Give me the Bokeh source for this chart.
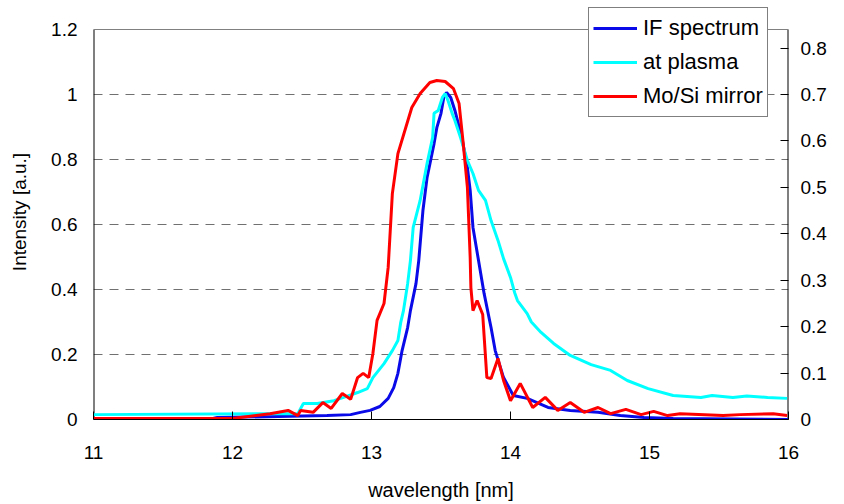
from bokeh.plotting import figure
from bokeh.models import (Range1d, LinearAxis, FixedTicker, NumeralTickFormatter,
                          Legend, LegendItem)
from bokeh.embed import file_html
from bokeh.resources import INLINE

# ---- data ----
if_wl = [11.0, 11.86, 11.89, 12.68, 12.85, 12.92, 12.99, 13.06, 13.12, 13.16, 13.19,
         13.22, 13.26, 13.28, 13.32, 13.34, 13.37, 13.40, 13.45, 13.47, 13.50, 13.52,
         13.54, 13.57, 13.60, 13.65, 13.69, 13.71, 13.73, 13.77, 13.81, 13.86, 13.89,
         13.95, 14.02, 14.12, 14.27, 14.43, 14.63, 14.79, 14.96, 15.17, 16.0]
if_int = [0.0, 0.003, 0.006, 0.012, 0.015, 0.022, 0.028, 0.040, 0.065, 0.098, 0.142,
          0.212, 0.283, 0.335, 0.418, 0.489, 0.643, 0.745, 0.849, 0.898, 0.942, 0.991,
          1.006, 0.991, 0.951, 0.868, 0.775, 0.705, 0.591, 0.489, 0.388, 0.283, 0.212,
          0.129, 0.074, 0.065, 0.037, 0.028, 0.022, 0.012, 0.006, 0.003, 0.0]

pl_wl = [11.0, 12.47, 12.51, 12.61, 12.73, 12.80, 12.90, 12.97, 13.01, 13.09, 13.15,
         13.19, 13.21, 13.23, 13.26, 13.28, 13.30, 13.35, 13.40, 13.44, 13.45, 13.48,
         13.51, 13.53, 13.55, 13.58, 13.60, 13.64, 13.69, 13.73, 13.77, 13.82, 13.86,
         13.91, 13.95, 14.00, 14.03, 14.05, 14.12, 14.15, 14.22, 14.31, 14.43, 14.58,
         14.72, 14.84, 14.99, 15.17, 15.37, 15.45, 15.60, 15.70, 15.85, 15.99]
pl_int = [0.015, 0.018, 0.049, 0.049, 0.058, 0.068, 0.083, 0.095, 0.129, 0.172, 0.212,
          0.243, 0.298, 0.335, 0.418, 0.489, 0.591, 0.674, 0.788, 0.868, 0.942, 0.951,
          0.991, 1.003, 0.982, 0.942, 0.920, 0.868, 0.797, 0.757, 0.705, 0.674, 0.612,
          0.551, 0.495, 0.437, 0.390, 0.366, 0.326, 0.300, 0.268, 0.234, 0.197, 0.169,
          0.151, 0.120, 0.095, 0.074, 0.068, 0.074, 0.068, 0.072, 0.068, 0.065]

mo_wl = [11.0, 12.0, 12.27, 12.40, 12.47, 12.49, 12.58, 12.65, 12.71, 12.79, 12.85,
         12.90, 12.94, 12.98, 13.01, 13.04, 13.09, 13.12, 13.15, 13.19, 13.29, 13.35,
         13.42, 13.47, 13.53, 13.59, 13.63, 13.66, 13.69, 13.71, 13.715, 13.73, 13.76,
         13.80, 13.83, 13.86, 13.91, 13.95, 14.00, 14.07, 14.16, 14.25, 14.34, 14.43,
         14.53, 14.63, 14.72, 14.83, 14.94, 15.03, 15.13, 15.22, 15.53, 15.65, 15.89, 15.99]
mo_int = [0.003, 0.003, 0.018, 0.028, 0.012, 0.028, 0.022, 0.052, 0.034, 0.080, 0.062,
          0.129, 0.142, 0.129, 0.203, 0.305, 0.357, 0.468, 0.695, 0.818, 0.960, 1.003,
          1.037, 1.043, 1.040, 1.018, 0.972, 0.849, 0.714, 0.498, 0.406, 0.335, 0.366,
          0.323, 0.129, 0.126, 0.188, 0.120, 0.058, 0.111, 0.037, 0.068, 0.028, 0.052,
          0.022, 0.037, 0.018, 0.031, 0.015, 0.025, 0.012, 0.018, 0.012, 0.015, 0.018, 0.012]

series_names = ["IF spectrum", "at plasma", "Mo/Si mirror"]
x_ticks = [11, 12, 13, 14, 15, 16]
y_ticks = [0, 0.2, 0.4, 0.6, 0.8, 1.0, 1.2]
y2_ticks = [0, 0.1, 0.2, 0.3, 0.4, 0.5, 0.6, 0.7, 0.8]
y2_max = 0.84          # right axis value at the top of the left axis (1.2)

FONT = "Liberation Sans"

# frame extends a little above the 1.2 line so the legend box can overlap it
FRAME_TOP_PX, PLOT_TOP_PX, PLOT_BOTTOM_PX = 4, 29, 419
ext = (PLOT_BOTTOM_PX - FRAME_TOP_PX) / (PLOT_BOTTOM_PX - PLOT_TOP_PX)

p = figure(width=844, height=504, output_backend="svg", toolbar_location=None,
           x_range=Range1d(x_ticks[0], x_ticks[-1]),
           y_range=Range1d(0, y_ticks[-1] * ext),
           min_border_left=93, min_border_right=56, min_border_top=FRAME_TOP_PX,
           min_border_bottom=85)
p.extra_y_ranges = {"right": Range1d(0, y2_max * ext)}

p.outline_line_color = None
p.background_fill_color = "white"
p.border_fill_color = "white"

# grid
p.xgrid.visible = False
p.ygrid.ticker = FixedTicker(ticks=y_ticks[1:-1])
p.ygrid.grid_line_color = "#707070"
p.ygrid.grid_line_dash = "9 7"
p.ygrid.grid_line_width = 1

# bottom axis
xa = p.xaxis[0]
xa.ticker = FixedTicker(ticks=x_ticks)
xa.formatter = NumeralTickFormatter(format="0")
xa.axis_label = "wavelength [nm]"
xa.axis_label_text_font = FONT
xa.axis_label_text_font_size = "20px"
xa.axis_label_text_font_style = "normal"
xa.axis_label_text_color = "black"
xa.axis_label_standoff = 17
xa.major_label_text_font = FONT
xa.major_label_text_font_size = "19px"
xa.major_label_standoff = 26
xa.major_tick_in = 8
xa.major_tick_out = 0
xa.minor_tick_in = 0
xa.minor_tick_out = 0
xa.axis_line_color = "black"
xa.major_tick_line_color = "black"
xa.major_label_text_color = "black"

# left axis (line drawn separately so it stops at 1.2)
ya = p.yaxis[0]
ya.ticker = FixedTicker(ticks=y_ticks)
ya.formatter = NumeralTickFormatter(format="0.[0]")
ya.axis_label = "Intensity [a.u.]"
ya.axis_label_text_font = FONT
ya.axis_label_text_font_size = "19px"
ya.axis_label_text_font_style = "normal"
ya.axis_label_text_color = "black"
ya.axis_label_standoff = 18
ya.major_label_text_font = FONT
ya.major_label_text_font_size = "19px"
ya.major_label_standoff = 16
ya.major_tick_in = 0
ya.major_tick_out = 0
ya.minor_tick_in = 0
ya.minor_tick_out = 0
ya.axis_line_color = None
ya.major_label_text_color = "black"

# right axis
ra = LinearAxis(y_range_name="right", ticker=FixedTicker(ticks=y2_ticks),
                formatter=NumeralTickFormatter(format="0.[0]"))
ra.major_label_text_font = FONT
ra.major_label_text_font_size = "19px"
ra.major_label_standoff = 12
ra.major_tick_in = 8
ra.major_tick_out = 0
ra.minor_tick_in = 0
ra.minor_tick_out = 0
ra.axis_line_color = None
ra.major_tick_line_color = "black"
ra.major_label_text_color = "black"
p.add_layout(ra, "right")

# plot-box edges: left & right axis lines (black) and top border (grey) at 1.2
p.segment(x0=[x_ticks[0], x_ticks[-1]], y0=[0, 0],
          x1=[x_ticks[0], x_ticks[-1]], y1=[y_ticks[-1], y_ticks[-1]],
          line_color="black", line_width=2)
p.segment(x0=[x_ticks[0]], y0=[y_ticks[-1]], x1=[x_ticks[-1]], y1=[y_ticks[-1]],
          line_color="#808080", line_width=1)

# curves
r1 = p.line(if_wl, if_int, line_color="#0A0AE8", line_width=3)
r2 = p.line(pl_wl, pl_int, line_color="#00FFFF", line_width=3)
r3 = p.line(mo_wl, mo_int, line_color="#FF0000", line_width=3)

legend = Legend(items=[LegendItem(label=series_names[0], renderers=[r1]),
                       LegendItem(label=series_names[1], renderers=[r2]),
                       LegendItem(label=series_names[2], renderers=[r3])],
                location=(495, 302))
legend.border_line_color = "black"
legend.border_line_width = 1
legend.background_fill_color = "white"
legend.background_fill_alpha = 1
legend.label_text_font = FONT
legend.label_text_font_size = "22px"
legend.label_text_color = "black"
legend.glyph_width = 44
legend.glyph_height = 32
legend.label_height = 32
legend.label_standoff = 6
legend.spacing = 2
legend.padding = 4
legend.margin = 0
p.add_layout(legend, "center")

open("out.html", "w").write(file_html(p, INLINE))
